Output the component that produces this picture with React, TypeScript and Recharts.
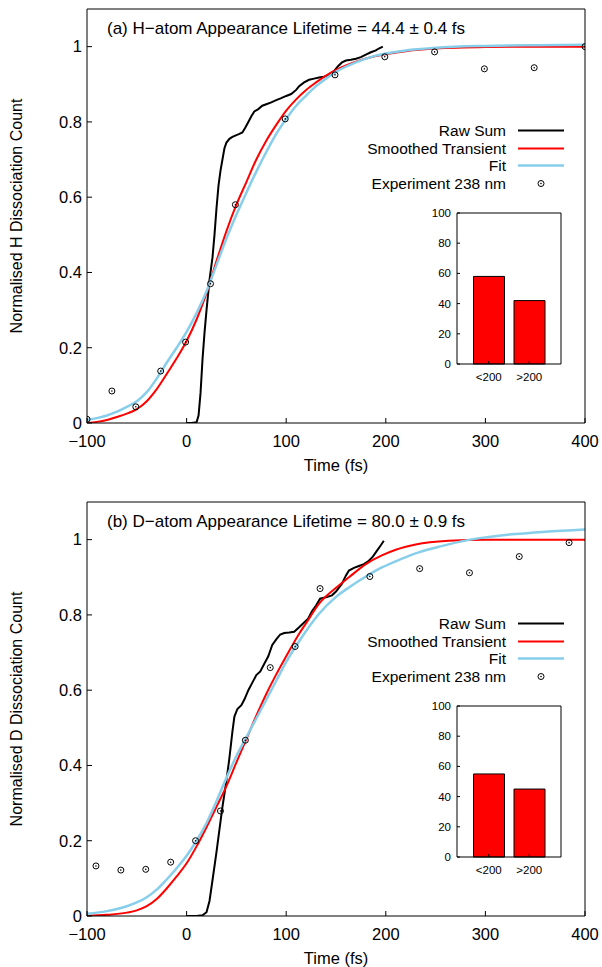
import { ComposedChart, Line, Scatter, XAxis, YAxis, Label, BarChart, Bar } from "recharts";

const X_TICKS = [-100, 0, 100, 200, 300, 400];
const Y_TICKS = [0, 0.2, 0.4, 0.6, 0.8, 1];
const INSET_TICKS = [0, 20, 40, 60, 80, 100];
const INSET_CATEGORIES = ["<200", ">200"];

// (a) H-atom
const H_RAW = [
  [0, 0], [5, 0], [10, 0.002], [12, 0.02], [14, 0.08], [16, 0.17], [18, 0.24], [20, 0.3], [23, 0.38],
  [26, 0.44], [28, 0.5], [30, 0.57], [32, 0.63], [34, 0.67], [36, 0.7], [38, 0.73], [40, 0.745],
  [43, 0.755], [46, 0.76], [50, 0.765], [53, 0.768], [56, 0.772], [59, 0.785], [62, 0.8], [65, 0.815],
  [68, 0.828], [72, 0.834], [76, 0.843], [80, 0.847], [85, 0.852], [90, 0.858], [95, 0.863],
  [100, 0.869], [105, 0.874], [110, 0.885], [113, 0.895], [118, 0.905], [123, 0.912], [128, 0.915],
  [133, 0.918], [138, 0.92], [143, 0.925], [148, 0.935], [152, 0.948], [156, 0.958], [160, 0.963],
  [165, 0.965], [170, 0.968], [175, 0.972], [180, 0.979], [185, 0.985], [190, 0.99], [193, 0.995],
  [197, 1.0],
];
const H_SMOOTH = [
  [-100, 0], [-90, 0.003], [-80, 0.008], [-70, 0.016], [-60, 0.025], [-50, 0.037], [-40, 0.058],
  [-30, 0.09], [-20, 0.13], [-10, 0.172], [0, 0.218], [10, 0.275], [20, 0.345], [30, 0.43],
  [40, 0.51], [50, 0.58], [60, 0.64], [70, 0.7], [80, 0.75], [90, 0.792], [100, 0.83], [110, 0.86],
  [120, 0.885], [130, 0.905], [140, 0.923], [150, 0.938], [170, 0.96], [190, 0.975], [220, 0.988],
  [250, 0.995], [300, 0.999], [350, 1.0], [400, 1.0],
];
const H_FIT = [
  [-100, 0.008], [-90, 0.013], [-80, 0.02], [-70, 0.03], [-60, 0.043], [-50, 0.058], [-40, 0.082],
  [-30, 0.118], [-20, 0.16], [-10, 0.2], [0, 0.242], [10, 0.292], [20, 0.35], [30, 0.42], [40, 0.49],
  [50, 0.553], [60, 0.612], [70, 0.668], [80, 0.72], [90, 0.768], [100, 0.808], [110, 0.843],
  [120, 0.87], [130, 0.895], [140, 0.915], [150, 0.933], [170, 0.958], [190, 0.976], [220, 0.99],
  [250, 0.997], [300, 1.002], [350, 1.004], [400, 1.005],
];
const H_EXP = [
  [-100, 0.01], [-75, 0.085], [-51, 0.043], [-26, 0.138], [-1, 0.215], [24, 0.37], [49, 0.58],
  [99, 0.808], [149, 0.925], [199, 0.973], [249, 0.986], [299, 0.941], [349, 0.944], [400, 1.0],
];
const H_INSET = [58, 42];

// (b) D-atom
const D_RAW = [
  [0, 0], [10, 0], [16, 0.002], [20, 0.01], [23, 0.04], [26, 0.095], [30, 0.17], [33, 0.23],
  [36, 0.29], [40, 0.36], [43, 0.42], [46, 0.49], [48, 0.53], [51, 0.55], [55, 0.56], [58, 0.575],
  [62, 0.6], [66, 0.62], [70, 0.64], [74, 0.65], [78, 0.67], [82, 0.69], [86, 0.72], [90, 0.735],
  [94, 0.748], [98, 0.752], [103, 0.753], [108, 0.755], [113, 0.767], [118, 0.78], [122, 0.79],
  [126, 0.81], [130, 0.825], [134, 0.843], [140, 0.847], [146, 0.852], [150, 0.862], [156, 0.883],
  [160, 0.905], [163, 0.918], [168, 0.925], [173, 0.93], [178, 0.935], [183, 0.944], [187, 0.955],
  [191, 0.97], [195, 0.985], [198, 0.997],
];
const D_SMOOTH = [
  [-100, 0], [-80, 0.003], [-60, 0.009], [-50, 0.015], [-40, 0.026], [-30, 0.045], [-20, 0.073],
  [-10, 0.105], [0, 0.14], [10, 0.185], [20, 0.236], [30, 0.29], [40, 0.345], [50, 0.408],
  [60, 0.47], [70, 0.532], [80, 0.59], [90, 0.642], [100, 0.69], [113, 0.75], [120, 0.778],
  [133, 0.83], [150, 0.872], [163, 0.9], [180, 0.935], [196, 0.958], [210, 0.973], [230, 0.987],
  [263, 0.997], [300, 1.0], [400, 1.0],
];
const D_FIT = [
  [-100, 0.006], [-80, 0.013], [-60, 0.026], [-50, 0.036], [-40, 0.05], [-30, 0.07], [-20, 0.097],
  [-10, 0.127], [0, 0.16], [10, 0.2], [20, 0.247], [30, 0.305], [40, 0.367], [50, 0.425],
  [60, 0.475], [70, 0.525], [80, 0.575], [90, 0.625], [100, 0.675], [113, 0.73], [133, 0.803],
  [150, 0.848], [163, 0.873], [180, 0.902], [196, 0.926], [215, 0.948], [233, 0.966], [255, 0.982],
  [281, 0.998], [300, 1.006], [330, 1.015], [360, 1.021], [400, 1.027],
];
const D_EXP = [
  [-91, 0.133], [-66, 0.122], [-41, 0.124], [-16, 0.143], [9, 0.2], [34, 0.279], [59, 0.467],
  [84, 0.66], [109, 0.716], [134, 0.87], [184, 0.902], [234, 0.923], [284, 0.912], [334, 0.955],
  [384, 0.992],
];
const D_INSET = [55, 45];

const BLACK = "#000000";
const RED = "#ff0000";
const BLUE = "#87ceeb";
const FONT = "'Liberation Sans', Arial, Helvetica, sans-serif";

const toPoints = (pairs: number[][]) => pairs.map(([t, v]) => ({ t, v }));
const minus = (v: number) => String(v).replace("-", "\u2212");

function ExpDot(props: any) {
  const { cx, cy } = props;
  if (cx == null || cy == null) return null;
  return (
    <g>
      <circle cx={cx} cy={cy} r={3} fill="none" stroke={BLACK} strokeWidth={1} />
      <circle cx={cx} cy={cy} r={0.8} fill={BLACK} />
    </g>
  );
}

function Inset({ values }: { values: number[] }) {
  const data = INSET_CATEGORIES.map((name, i) => ({ name, value: values[i] }));
  return (
    <div style={{ position: "absolute", left: 400, top: 200 }}>
      <BarChart width={170} height={192} data={data} margin={{ top: 12, right: 8, left: 27, bottom: 6 }}>
        <XAxis
          xAxisId="b"
          dataKey="name"
          height={22}
          padding={{ left: 11.5, right: 11.5 }}
          tickSize={-3}
          tickMargin={12}
          stroke={BLACK}
          tick={{ fill: BLACK, fontSize: 11.5 }}
        />
        <XAxis
          xAxisId="t"
          dataKey="name"
          orientation="top"
          height={1}
          padding={{ left: 11.5, right: 11.5 }}
          tickSize={-3}
          stroke={BLACK}
          tick={false}
        />
        <YAxis
          yAxisId="l"
          width={30}
          domain={[0, 100]}
          ticks={INSET_TICKS}
          tickSize={-3}
          tickMargin={9}
          stroke={BLACK}
          tick={{ fill: BLACK, fontSize: 11.5 }}
        />
        <YAxis
          yAxisId="r"
          orientation="right"
          width={1}
          domain={[0, 100]}
          ticks={INSET_TICKS}
          tickSize={-3}
          stroke={BLACK}
          tick={false}
        />
        <Bar
          xAxisId="b"
          yAxisId="l"
          dataKey="value"
          barSize={31}
          fill={RED}
          stroke={BLACK}
          strokeWidth={1}
          isAnimationActive={false}
        />
      </BarChart>
    </div>
  );
}

function PanelLegend() {
  const rows = [
    { label: "Raw Sum", color: BLACK, width: 2 },
    { label: "Smoothed Transient", color: RED, width: 2 },
    { label: "Fit", color: BLUE, width: 2.5 },
    { label: "Experiment 238 nm", color: null, width: 0 },
  ];
  return (
    <div style={{ position: "absolute", left: 300, top: 122, width: 270 }}>
      {rows.map((r) => (
        <div key={r.label} style={{ display: "flex", alignItems: "center", height: 17.5, justifyContent: "flex-end" }}>
          <span style={{ fontSize: 15.5, marginRight: 12, lineHeight: "17.5px", whiteSpace: "nowrap" }}>{r.label}</span>
          <svg width={47} height={17}>
            {r.color ? (
              <line x1={0} y1={8.5} x2={46} y2={8.5} stroke={r.color} strokeWidth={r.width} />
            ) : (
              <ExpDot cx={23} cy={8.5} />
            )}
          </svg>
          <span style={{ width: 5 }} />
        </div>
      ))}
    </div>
  );
}

interface PanelProps {
  top: number;
  title: string;
  yLabel: string;
  raw: number[][];
  smooth: number[][];
  fit: number[][];
  exp: number[][];
  inset: number[];
}

function Panel({ top, title, yLabel, raw, smooth, fit, exp, inset }: PanelProps) {
  return (
    <div style={{ position: "absolute", left: 0, top, width: 602, height: 474 }}>
      <ComposedChart width={602} height={474} margin={{ top: 8, right: 16, left: 0, bottom: 6 }}>
        <XAxis
          xAxisId="b"
          dataKey="t"
          type="number"
          domain={[-100, 400]}
          ticks={X_TICKS}
          allowDataOverflow
          height={45}
          tickSize={-5}
          tickMargin={17}
          tickFormatter={minus}
          stroke={BLACK}
          tick={{ fill: BLACK, fontSize: 16.5 }}
        >
          <Label value="Time (fs)" position="insideBottom" offset={-3} style={{ fill: BLACK, fontSize: 16.5 }} />
        </XAxis>
        <XAxis
          xAxisId="t"
          dataKey="t"
          type="number"
          orientation="top"
          domain={[-100, 400]}
          ticks={X_TICKS}
          allowDataOverflow
          height={1}
          tickSize={-5}
          stroke={BLACK}
          tick={false}
        />
        <YAxis
          yAxisId="l"
          type="number"
          domain={[0, 1.1]}
          ticks={Y_TICKS}
          allowDataOverflow
          width={87}
          tickSize={-5}
          tickMargin={10}
          stroke={BLACK}
          tick={{ fill: BLACK, fontSize: 16.5 }}
        >
          <Label
            value={yLabel}
            angle={-90}
            position="insideLeft"
            offset={16}
            style={{ textAnchor: "middle", fill: BLACK, fontSize: 16 }}
          />
        </YAxis>
        <YAxis
          yAxisId="r"
          type="number"
          orientation="right"
          domain={[0, 1.1]}
          ticks={Y_TICKS}
          allowDataOverflow
          width={1}
          tickSize={-5}
          stroke={BLACK}
          tick={false}
        />
        <Line
          xAxisId="b"
          yAxisId="l"
          data={toPoints(raw)}
          dataKey="v"
          type="linear"
          stroke={BLACK}
          strokeWidth={2}
          dot={false}
          isAnimationActive={false}
        />
        <Line
          xAxisId="b"
          yAxisId="l"
          data={toPoints(smooth)}
          dataKey="v"
          type="monotone"
          stroke={RED}
          strokeWidth={2}
          dot={false}
          isAnimationActive={false}
        />
        <Line
          xAxisId="b"
          yAxisId="l"
          data={toPoints(fit)}
          dataKey="v"
          type="monotone"
          stroke={BLUE}
          strokeWidth={2.5}
          dot={false}
          isAnimationActive={false}
        />
        <Scatter
          xAxisId="b"
          yAxisId="l"
          data={toPoints(exp)}
          dataKey="v"
          shape={<ExpDot />}
          isAnimationActive={false}
        />
      </ComposedChart>
      <div style={{ position: "absolute", left: 107, top: 19, fontSize: 17, lineHeight: "20px", whiteSpace: "nowrap" }}>
        {title}
      </div>
      <PanelLegend />
      <Inset values={inset} />
    </div>
  );
}

export default function App() {
  return (
    <div
      style={{
        position: "absolute",
        left: 0,
        top: 0,
        width: 602,
        height: 967,
        background: "#ffffff",
        fontFamily: FONT,
        color: BLACK,
      }}
    >
      <Panel
        top={0}
        title={"(a) H\u2212atom Appearance Lifetime = 44.4 \u00b1 0.4 fs"}
        yLabel="Normalised H Dissociation Count"
        raw={H_RAW}
        smooth={H_SMOOTH}
        fit={H_FIT}
        exp={H_EXP}
        inset={H_INSET}
      />
      <Panel
        top={493}
        title={"(b) D\u2212atom Appearance Lifetime = 80.0 \u00b1 0.9 fs"}
        yLabel="Normalised D Dissociation Count"
        raw={D_RAW}
        smooth={D_SMOOTH}
        fit={D_FIT}
        exp={D_EXP}
        inset={D_INSET}
      />
    </div>
  );
}
